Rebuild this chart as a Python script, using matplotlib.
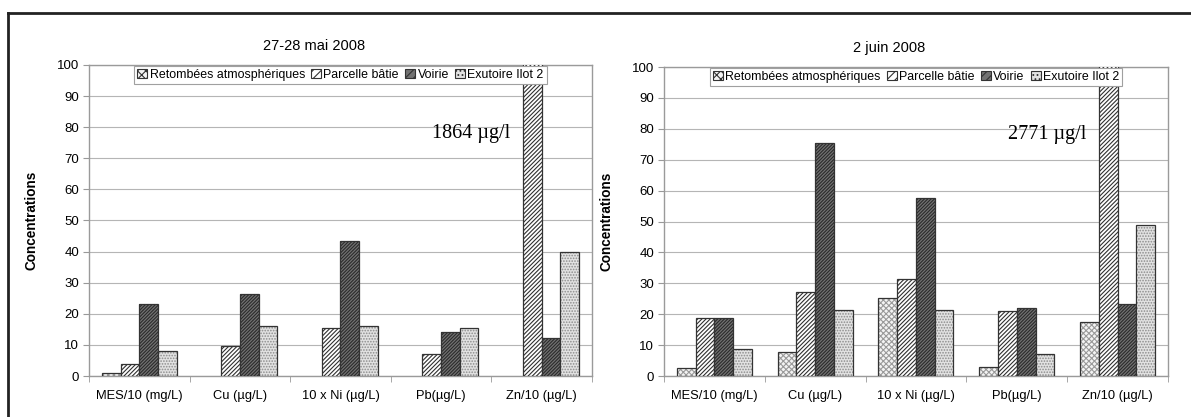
import numpy as np
import matplotlib
matplotlib.use('Agg')
import matplotlib.pyplot as plt
from matplotlib.lines import Line2D

# Data (concentrations; Zn/10 of parcelle bâtie exceeds the axis)
categories = ['MES/10 (mg/L)', 'Cu (µg/L)', '10 x Ni (µg/L)', 'Pb(µg/L)', 'Zn/10 (µg/L)']
series_names = ['Retombées atmosphériques', 'Parcelle bâtie', 'Voirie', 'Exutoire Ilot 2']

mai_retombees = [1.0, 0, 0, 0, 0]
mai_parcelle = [4.0, 9.8, 15.3, 7.0, 186.4]
mai_voirie = [23.0, 26.5, 43.5, 14.2, 12.3]
mai_exutoire = [8.2, 16.0, 16.0, 15.3, 40.0]

juin_retombees = [2.6, 7.7, 25.2, 2.8, 17.5]
juin_parcelle = [18.7, 27.2, 31.3, 21.2, 277.1]
juin_voirie = [18.8, 75.5, 57.5, 22.0, 23.2]
juin_exutoire = [8.7, 21.5, 21.3, 7.2, 49.0]

plt.rcParams['font.family'] = ['Liberation Sans', 'DejaVu Sans']
plt.rcParams['hatch.linewidth'] = 0.8

# style per series: facecolor, hatch, hatch colour
styles = [
    ('#f4f4f4', 'xxxxxx', '#9a9a9a'),
    ('white', '/' * 8, '#303030'),
    ('#727272', '/' * 10, '#2a2a2a'),
    ('#e2e2e2', '.' * 6, '#8c8c8c'),
]


def draw_panel(ax, title, values, note):
    x = np.arange(len(categories))
    w = 0.186
    for i, (vals, name, st) in enumerate(zip(values, series_names, styles)):
        pos = x + (i - 1.5) * w
        vals = np.array(vals, dtype=float)
        shown = vals > 0
        # hatched fill, then a dark outline on top
        ax.bar(pos[shown], vals[shown], w, color=st[0], hatch=st[1], edgecolor=st[2], linewidth=0, zorder=3)
        ax.bar(pos[shown], vals[shown], w, fill=False, edgecolor='#333333', linewidth=0.9, zorder=3)
        # legend proxy
        ax.bar(0, 0, 0, label=name, color=st[0], hatch=st[1][:4], edgecolor='#333333', linewidth=0.8)

    ax.set_xlim(-0.5, 4.5)
    ax.set_ylim(0, 100)
    ax.set_yticks(range(0, 101, 10))
    ax.set_xticks(x)
    ax.set_xticklabels(categories, fontsize=9.3)
    ax.set_xticks(np.arange(-0.5, 5, 1), minor=True)
    ax.tick_params(axis='x', which='major', length=0, pad=10)
    ax.tick_params(axis='x', which='minor', length=4, color='#999999')
    ax.tick_params(axis='y', length=4, color='#999999', labelsize=9.5, pad=3)
    ax.grid(axis='y', color='#b5b5b5', linewidth=0.8, zorder=0)
    for sp in ax.spines.values():
        sp.set_color('#9a9a9a')
        sp.set_linewidth(1.0)

    ax.set_ylabel('Concentrations', fontsize=9.8, fontweight='bold', labelpad=13)
    ax.set_title(title, fontsize=10.5, x=0.447, pad=11)
    ax.text(3.3, 78, note, family='Liberation Serif', fontsize=14.5, ha='center', va='center', zorder=4)

    leg = ax.legend(loc='upper center', bbox_to_anchor=(0.5, 1.0), ncol=4, fontsize=8.9,
                    handlelength=0.8, handleheight=0.8, handletextpad=0.2, columnspacing=0.5,
                    borderpad=0.25, borderaxespad=0.05, fancybox=False, framealpha=1)
    leg.get_frame().set_edgecolor('#a0a0a0')
    leg.get_frame().set_linewidth(0.8)
    leg.set_zorder(5)


fig = plt.figure(figsize=(11.91, 4.17), dpi=100)
ax1 = fig.add_axes([0.0747, 0.0983, 0.4223, 0.746])
ax2 = fig.add_axes([0.5575, 0.0983, 0.4232, 0.741])

draw_panel(ax1, '27-28 mai 2008', [mai_retombees, mai_parcelle, mai_voirie, mai_exutoire], '1864 µg/l')
draw_panel(ax2, '2 juin 2008', [juin_retombees, juin_parcelle, juin_voirie, juin_exutoire], '2771 µg/l')

# outer frame (top and left edges)
fig.add_artist(Line2D([8 / 1191, 1], [1 - 13 / 417, 1 - 13 / 417], color='#222222', linewidth=2))
fig.add_artist(Line2D([8 / 1191, 8 / 1191], [0, 1 - 13 / 417], color='#222222', linewidth=2))

fig.savefig('out.png', dpi=100)
